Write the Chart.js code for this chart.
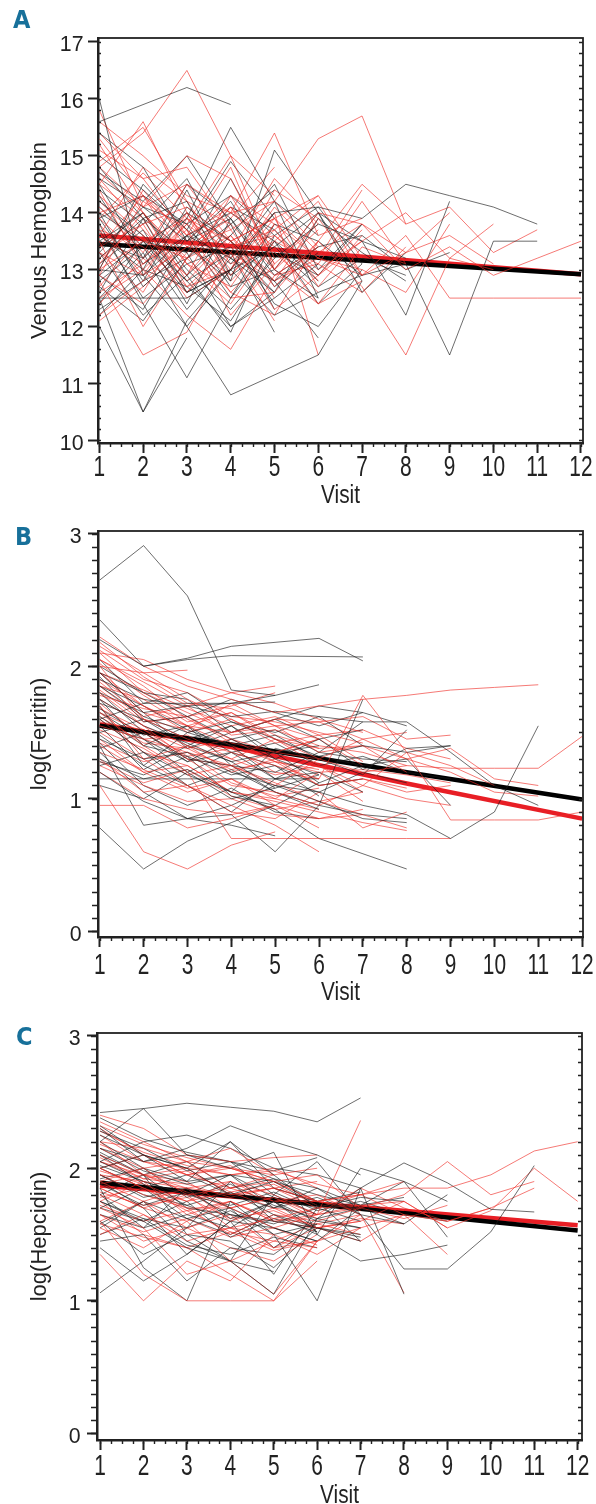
<!DOCTYPE html>
<html lang="en">
<head>
<meta charset="UTF-8">
<title>Trajectories by visit</title>
<script src="https://cdn.jsdelivr.net/npm/chart.js@4"></script>
<style>
  body { margin: 0; background: #fff; }
  #wrap { position: relative; width: 596px; height: 1504px; overflow: hidden; }
  .panel { position: absolute; left: 0; width: 596px; }
  .tag { position: absolute; font: bold 25px/25px 'DejaVu Sans Condensed', sans-serif; color: #17709a; }
</style>
</head>
<body>
<div id="wrap">
  <div class="panel" style="top:0;height:512px"><canvas id="chartA"></canvas></div>
  <div class="panel" style="top:512px;height:494px"><canvas id="chartB"></canvas></div>
  <div class="panel" style="top:1006px;height:498px"><canvas id="chartC"></canvas></div>
  <div class="tag" style="left:13px;top:7px">A</div>
  <div class="tag" style="left:15px;top:524px">B</div>
  <div class="tag" style="left:16px;top:1024px">C</div>
</div>
<script>
const visits = [1, 2, 3, 4, 5, 6, 7, 8, 9, 10, 11, 12];
const fitVisits = [1, 12];
const ferFitVisits = [1, 4, 8, 12];

// A: venous hemoglobin, one row per subject, value per visit
const hbBlack = [
  [15.6, null, 16.2, 15.9],
  [16.0, 12.9, 13.6, 13.2, 12.6],
  [12.5, 10.5, 12.1, 13.0],
  [12.0, 10.5, 11.8],
  [13.8, 12.4, 11.1, 12.5, 13.5, 12.8],
  [13.0, 12.9, 12.0, 10.8, null, 11.5, 12.8],
  [14.5, 13.2, 13.9, 15.5, 14.2, 12.5],
  [13.2, 13.9, 14.2, 12.8, 15.1, 14.0, 12.8],
  [14.0, 13.5, 12.6, 13.0, 14.0, 14.1, 13.9, 14.5, 14.3, 14.1, 13.8],
  [12.5, 12.5, 12.5, 13.0, 12.2, 12.6, 12.9, 13.1, 11.5, 13.5, 13.5],
  [13.5, 14.0, 13.0, 12.3, 13.2, 13.8, 13.5, 12.2, 14.2],
  [14.6, 14.1, 13.5, 14.2, 13.0, 12.5],
  [13.3, 12.2, 12.9, 13.6, 14.5, 13.0, 13.8],
  [12.8, 13.4, 14.0, 13.5, 12.8, 11.8],
  [14.2, 13.6, 12.8, 12.0, 12.5, 13.1],
  [13.0, 14.5, 13.7, 13.1, 14.0],
  [12.7, 12.1, 13.2, 13.8, 12.3],
  [15.4, 14.8, 13.5, 13.9],
  [13.6, 13.0, 14.4, 12.9, 13.4, 14.0, 12.6, 13.3],
  [14.8, 13.9, 12.6, 13.0],
  [12.9, 13.5, 13.3, 12.0, 12.6],
  [13.9, 14.3, 13.8, 14.3, 13.6, 14.1, 13.1],
  [12.3, 12.8, 14.1, 13.5, 12.4, 12.0, 13.0],
  [14.0, 12.7, 13.4, 12.8],
  [13.4, 14.0, 12.9, 11.9, 13.6],
  [12.5, 13.3, 12.0, 13.0, 13.4, 12.7, 13.2, 12.9],
  [13.1, 13.7, 12.4, 13.9, 12.7, 13.3],
  [14.3, 13.1, 13.6, 12.5, 13.8, 13.5, 12.9],
  [12.6, 13.9, 13.3, 14.6, 13.2],
  [13.7, 12.5, 13.1, 13.4, 12.6, 13.9, 13.3, 12.8],
  [14.7, 14.2, 15.0, 13.8, 14.4],
  [12.2, 13.0, 12.7, 12.1, 13.3, 12.9],
  [13.5, 13.2, 14.5, 13.9, 12.9, 13.4, 13.6, 13.0, 13.3],
  [14.1, 13.4, 12.3, 13.2, 14.2, 13.6],
  [12.9, 12.3, 13.6, 14.0, 13.5, 12.4, 13.1],
  [15.0, 14.4, 13.7, 14.9, 13.9],
  [13.3, 14.1, 13.8, 12.7, 13.0, 14.0, 13.5, 13.2],
  [12.4, 13.5, 12.8, 13.3, 11.9],
  [13.9, 12.8, 13.2, 14.1, 13.7, 12.9, 13.8],
  [14.4, 13.8, 14.6, 13.2, 12.8, 13.4]
];
const hbRed = [
  [14.8, 15.4, 16.5, 15.0, 14.3],
  [13.0, 13.5, 13.2, 14.0, 14.2, 15.3, 15.7, 13.8],
  [15.8, 14.1, 15.0, 14.6, 13.1],
  [14.5, 15.6, 14.0, 13.4, 13.7, 12.8],
  [13.5, 12.0, 13.2, 12.5, 12.6, 13.5, 12.7, 11.5, 13.2, 13.0],
  [12.8, 11.5, 11.9, 13.3, 12.1],
  [14.0, 14.3, 13.6, 14.8, 13.0, 14.0, 13.8, 13.0, 13.4, 12.9, 13.2, 13.5],
  [13.2, 13.8, 14.1, 13.5, 13.9, 13.2, 12.9, 13.6, 12.5, 12.5, 12.5, 12.5],
  [15.2, 14.0, 13.1, 12.7, 13.8],
  [12.5, 13.0, 12.2, 11.6, 12.9, 13.4],
  [14.1, 13.3, 14.5, 14.0, 15.4, 13.6, 13.9],
  [13.8, 12.9, 13.4, 13.7, 12.7, 13.5, 14.5, 13.8, 14.1, 13.3, 13.7],
  [12.9, 14.2, 13.7, 12.2, 13.1],
  [15.1, 14.6, 13.6, 14.1, 13.3, 12.6],
  [13.3, 12.6, 13.9, 13.5, 12.3, 12.9, 13.5],
  [14.3, 13.6, 12.5, 13.0, 14.4, 13.9, 12.9, 13.3, 14.0],
  [12.6, 13.1, 13.8, 13.2, 14.0, 11.5],
  [13.6, 14.8, 14.2, 13.1, 13.5, 14.2, 12.9],
  [14.6, 13.7, 12.9, 14.3, 13.8],
  [12.2, 12.8, 13.5, 12.6, 13.4, 12.4, 12.8],
  [13.9, 13.2, 14.0, 12.8, 13.6, 13.0, 13.5, 14.0, 13.2, 13.8],
  [13.1, 14.0, 12.8, 13.6, 12.5],
  [14.9, 15.5, 14.2, 13.8],
  [12.9, 12.4, 13.3, 14.1, 13.0, 13.7],
  [13.7, 13.4, 12.7, 13.0, 13.9, 12.7, 13.6],
  [14.4, 13.0, 13.8, 15.0, 13.2],
  [13.4, 14.3, 13.1, 12.4, 13.5, 13.1, 14.2, 13.1],
  [15.4, 14.6, 14.8, 13.7, 14.2, 13.4],
  [13.9, 14.7, 13.9, 13.3, 14.6, 13.8],
  [12.7, 13.6, 12.9, 13.8, 13.0, 12.4, 13.4, 13.1],
  [14.7, 14.0, 13.2, 13.6, 12.8, 13.9],
  [13.3, 12.9, 14.0, 12.9, 13.7, 14.3, 13.2],
  [15.6, 15.0, 14.3, 14.0, 13.4],
  [12.4, 13.2, 12.6, 13.5, 12.9, 13.1, 12.6, 13.4],
  [14.2, 13.5, 13.9, 13.0, 14.1, 13.3, 13.8, 13.3, 13.6, 13.1],
  [13.0, 14.4, 13.5, 14.3, 13.1, 13.8],
  [14.5, 13.9, 12.7, 13.4, 13.6, 12.9, 13.7],
  [13.6, 13.1, 13.7, 12.6, 12.2, 13.5],
  [12.1, 12.7, 13.4, 12.9, 13.8, 13.2, 14.4],
  [14.8, 14.1, 14.5, 13.5, 13.9, 14.3],
  [13.4, 13.8, 12.6, 13.3, 12.8, 13.2, 13.0, 12.6, 13.8],
  [15.3, 14.3, 13.4, 13.9, 14.8]
];
const hbFitBlack = [13.45, 12.92];
const hbFitRed = [13.6, 12.92];

// B: log(Ferritin)
const ferBlack = [
  [2.65, 2.91, 2.53, 1.82, 1.78],
  [2.35, 2.0, 2.06, 2.15, null, 2.21, 2.04],
  [2.2, 2.0, 2.05, 2.08, null, null, 2.07],
  [0.78, 0.47, 0.68, 0.82, 0.95],
  [1.45, 1.30, 1.35, 1.20, 1.10, 1.05, 0.95, 0.88, 0.70, 0.90, 1.55],
  [1.90, 1.75, 1.70, 1.62, 1.66, 1.62, 1.58, 1.58, 1.35, 1.10, 0.95],
  [1.2, 0.98, 0.85, 0.88, 0.60, 0.95, 1.75],
  [1.6, 1.35, 1.18, 1.05, 0.92, 0.70, null, 0.47],
  [1.95, 1.65, 1.70, 1.72, 1.78, 1.86],
  [1.75, 1.55, 1.42, 1.28, 1.35, 1.12, 1.25, 1.30, 0.95],
  [1.30, 1.15, 1.22, 1.05, 1.38, 1.30, 1.18, 1.52],
  [1.85, 1.62, 1.50, 1.58, 1.45, 1.32, 1.40, 1.35, 1.40],
  [1.40, 0.80, 0.85, 0.95, 1.10, 0.98, 0.85, 0.82],
  [1.55, 1.45, 1.20, 1.35, 1.25, 1.02],
  [1.70, 1.25, 1.50, 1.40, 1.15, 1.32, 1.25],
  [2.00, 1.80, 1.62, 1.75, 1.65, 1.55, 1.65],
  [1.15, 1.15, 1.15, 1.15, 1.15, 1.15],
  [1.60, 1.72, 1.72, 1.72, 1.73],
  [1.25, 1.35, 1.10, 0.90, 1.15, 1.20, 1.05],
  [1.80, 1.50, 1.30, 1.25, 1.05, 0.95, 0.88, 0.85],
  [1.50, 1.60, 1.40, 1.55, 1.30, 1.45, 1.22, 1.38, 1.40],
  [1.35, 1.05, 0.85, 0.80, 0.72],
  [1.95, 1.80, 1.75, 1.50, 1.60, 1.70, 1.65, 1.55],
  [1.65, 1.45, 1.28, 1.45, 1.30, 1.18],
  [1.10, 1.00, 1.20, 1.00, 1.08],
  [1.75, 1.40, 1.55, 1.25, 1.20, 1.35, 1.58],
  [1.85, 1.70, 1.52, 1.40, 1.48, 1.30],
  [1.62, 1.40, 1.32, 1.18, 1.25, 1.10, 1.15],
  [1.48, 1.25, 1.10, 1.22, 1.05, 0.92],
  [2.05, 1.72, 1.80, 1.58, 1.50, 1.62, 1.40],
  [1.38, 1.50, 1.28, 1.35, 1.15, 1.05, 1.20, 1.12],
  [1.72, 1.60, 1.45, 1.55, 1.35, 1.40],
  [1.28, 1.18, 1.32, 1.02, 0.95, 1.12],
  [1.92, 1.58, 1.62, 1.45, 1.52, 1.35, 1.30, 1.28],
  [1.55, 1.22, 1.40, 1.28, 1.08, 1.18],
  [1.68, 1.48, 1.55, 1.35, 1.42, 1.25, 1.32, 1.20, 1.15],
  [1.42, 1.10, 0.95, 1.08, 0.90, 0.85],
  [1.80, 1.65, 1.38, 1.50, 1.60, 1.45, 1.52]
];
const ferRed = [
  [1.10, 0.60, 0.47, 0.65, 0.75],
  [0.95, 0.95, 0.78, 0.85, 0.95],
  [2.22, 2.00, 1.85, 1.75, 1.65, 1.70, 1.75, 1.78, 1.82, 1.84, 1.86],
  [2.15, 1.95, 1.75, 1.60, 1.45, 1.30, 1.20, 1.25, 1.23, 1.23, 1.23, 1.47],
  [1.80, 1.55, 1.30, 1.10, 1.05, 0.95, 1.10, 1.35, 0.84, 0.84, 0.84, 0.90],
  [1.65, 1.40, 1.20, 0.70, 0.70, 0.70, 0.70, 0.70, 0.70],
  [2.05, 1.88, 1.70, 1.80, 1.85],
  [2.00, 1.95, 1.97],
  [1.90, 1.70, 1.55, 1.50, 1.60, 1.58, 1.62, 1.45, 1.48],
  [1.70, 1.30, 1.10, 0.95, 0.80, 0.60],
  [1.55, 1.45, 1.35, 1.25, 1.10, 1.30, 1.45, 1.30, 1.20, 1.05, 1.02],
  [2.10, 1.80, 1.65, 1.50, 1.55, 1.35, 1.40, 1.20],
  [1.85, 1.60, 1.45, 1.35, 1.25, 1.15, 1.78, 1.35, 1.25, 1.10],
  [1.45, 1.20, 1.05, 1.15, 0.95, 0.85, 0.88, 0.78],
  [1.95, 1.70, 1.50, 1.60, 1.42, 1.48, 1.28],
  [1.30, 1.05, 1.10, 0.90, 0.85, 1.05, 0.78, 0.90],
  [2.00, 1.60, 1.52, 1.72, 1.55, 1.45],
  [1.75, 1.55, 1.40, 1.30, 1.45, 1.25, 1.10, 1.00, 0.95],
  [1.60, 1.35, 1.25, 1.05, 1.00, 1.20, 0.98],
  [2.10, 2.05, 1.90, 1.80, 1.72, 1.60, 1.50],
  [1.50, 1.30, 1.40, 1.20, 1.30, 1.10, 1.15, 1.05, 1.10],
  [1.20, 1.00, 0.92, 0.88, 0.95, 0.78],
  [1.85, 1.75, 1.55, 1.65, 1.45, 1.38, 1.40, 1.30, 1.38, 1.15, 1.10],
  [2.05, 1.85, 1.60, 1.45, 1.35, 1.30],
  [1.65, 1.50, 1.30, 1.25, 1.35, 1.45],
  [1.40, 1.20, 1.25, 1.05, 0.98, 0.90, 0.82, 0.76],
  [1.78, 1.68, 1.62, 1.70, 1.80],
  [1.25, 1.10, 0.98, 1.00, 0.88, 0.85, 0.92],
  [1.95, 1.65, 1.55, 1.40, 1.28, 1.20, 1.22, 1.18, 1.12],
  [1.58, 1.52, 1.32, 1.38, 1.20, 1.15],
  [2.12, 1.90, 1.80, 1.62, 1.58, 1.50, 1.42],
  [1.72, 1.45, 1.48, 1.30, 1.18, 1.25, 1.05],
  [1.88, 1.62, 1.70, 1.48, 1.52, 1.40, 1.35, 1.25],
  [1.35, 1.22, 1.08, 1.15, 1.00, 0.92],
  [2.02, 1.78, 1.58, 1.65, 1.48, 1.38],
  [1.62, 1.42, 1.38, 1.22, 1.28, 1.10, 1.15, 1.08],
  [1.52, 1.38, 1.18, 1.25, 1.12, 0.98, 1.05],
  [1.95, 1.82, 1.68, 1.55, 1.62, 1.48, 1.52, 1.38, 1.30],
  [1.42, 1.28, 1.35, 1.12, 1.02, 1.08],
  [1.82, 1.58, 1.62, 1.42, 1.35, 1.45, 1.25],
  [1.68, 1.52, 1.38, 1.45, 1.28, 1.22],
  [2.18, 1.92, 1.72, 1.68, 1.55, 1.58, 1.45, 1.50],
  [1.28, 1.12, 1.22, 1.02, 0.92, 0.98, 0.88]
];
const ferFitBlack = [1.55, 1.41, 1.20, 0.995];
const ferFitRed = [1.56, 1.39, 1.115, 0.85];

// C: log(Hepcidin)
const hepBlack = [
  [2.42, 2.45, 2.49, 2.46, 2.43, 2.35, 2.53],
  [2.20, 2.45, 2.10, 2.00, 2.12, 1.50, 1.30, 1.35, 1.42],
  [2.30, 2.05, 2.15, 2.32, 2.20, 2.10, 1.95],
  [1.06, 1.30, 1.55, 1.90, 1.60],
  [1.85, 1.25, 1.00, 1.75, 1.50, 1.00, 1.85, 1.05],
  [2.05, 1.90, 1.80, 1.95, 1.70, 1.85, 1.65, 1.24, 1.24, 1.52, 2.02],
  [1.75, 1.60, 1.40, 1.30, 1.05, 1.62, 1.85, 2.04, 1.89, 1.69, 1.67],
  [1.95, 1.78, 1.85, 1.62, 1.75, 1.60, 1.55],
  [2.25, 2.10, 2.00, 1.80, 1.90, 1.72, 1.70],
  [1.60, 1.35, 1.50, 1.45, 1.25, 1.55, 1.45],
  [2.10, 1.95, 1.70, 1.65, 1.60, 1.55, 1.50],
  [1.45, 1.50, 1.15, 1.40, 1.35, 1.58],
  [2.00, 2.10, 1.90, 2.20, 1.95, 1.70, 1.78, 1.75],
  [1.80, 1.55, 1.65, 1.55, 1.75, 1.52],
  [2.15, 2.05, 2.10, 2.05, 1.80, 2.05, 1.65, 1.58, 1.80],
  [1.55, 1.75, 1.45, 1.30, 1.22],
  [2.32, 2.10, 2.00, 2.20, 1.85, 1.75, 1.45],
  [1.70, 1.85, 1.62, 1.50, 1.65, 1.50, 2.00, 1.90, 1.48],
  [1.90, 1.70, 1.35, 1.60, 1.20, 1.70],
  [2.05, 2.20, 2.25, 2.15, 2.00, 1.95, 1.85],
  [1.65, 1.55, 1.85, 1.70, 1.40, 1.62, 1.55],
  [1.95, 1.80, 1.72, 1.82, 1.65, 1.55, 1.48],
  [1.40, 1.15, 1.35, 1.60, 1.55, 1.45, 1.70],
  [2.20, 2.00, 1.90, 1.95, 1.90, 1.80, 1.72, 1.90, 1.75],
  [1.80, 1.95, 1.50, 1.30, 1.80, 1.65],
  [2.10, 1.88, 1.72, 1.60, 1.75, 1.55],
  [2.15, 1.98, 1.88, 1.95, 1.78, 1.70],
  [1.88, 1.72, 1.82, 1.65, 1.58, 1.70, 1.60],
  [2.28, 2.15, 1.98, 2.05, 1.92, 1.85, 1.72, 1.78],
  [1.70, 1.60, 1.75, 1.48, 1.62, 1.52],
  [2.00, 1.85, 1.95, 1.80, 1.70, 1.78, 1.65],
  [1.58, 1.75, 1.62, 1.70, 1.55, 1.45],
  [2.38, 2.22, 2.12, 2.05, 1.98, 2.08],
  [1.92, 2.00, 1.78, 1.88, 1.72, 1.62, 1.70, 1.58],
  [1.75, 1.62, 1.55, 1.68, 1.50, 1.58],
  [2.12, 1.95, 2.05, 1.85, 1.92, 1.75, 1.82],
  [1.50, 1.62, 1.42, 1.35, 1.48, 1.40],
  [2.02, 1.90, 1.80, 1.72, 1.82, 1.68, 1.75, 1.65, 1.60]
];
const hepRed = [
  [1.60, 1.20, 1.00, 1.00, 1.00, 1.45, 1.55],
  [1.35, 1.00, 1.30, 1.15, 1.50],
  [2.00, 1.85, 1.70, 1.70, 1.55, 1.65, 2.36],
  [1.95, 1.90, 1.85, 1.80, 1.85, 1.75, 1.80, 1.85, 1.85, 1.95, 2.13, 2.20],
  [2.40, 2.30, 2.10, 2.05, 2.08, 2.10],
  [2.20, 2.15, 2.05, 2.00, 1.90, 1.95, 1.70, 1.80, 2.05, 1.80, 1.90],
  [1.80, 1.65, 1.50, 1.55, 1.40, 1.45, 1.65, 1.06],
  [1.90, 1.75, 1.85, 1.60, 1.70, 1.55, 1.60, 1.75, 1.55, 1.68, 2.00, 1.75],
  [2.10, 1.95, 1.85, 1.90, 1.75, 1.80, 1.65],
  [1.70, 1.55, 1.20, 1.30, 1.05, 1.45],
  [2.25, 2.05, 2.00, 1.95, 2.00, 1.85],
  [1.85, 1.70, 1.80, 1.55, 1.62, 1.70, 1.72, 1.75, 1.55],
  [2.00, 2.10, 1.95, 1.85, 1.90, 1.75, 1.80, 1.65, 1.60, 1.70, 1.85],
  [1.55, 1.40, 1.60, 1.30, 1.45, 1.40],
  [2.35, 2.20, 2.05, 2.15, 1.95],
  [1.75, 1.90, 1.65, 1.75, 1.60, 1.55, 1.45, 1.65, 1.35],
  [1.95, 1.80, 1.70, 1.50, 1.65, 1.60, 1.70],
  [2.15, 2.00, 2.05, 1.85, 1.95, 2.00],
  [1.65, 1.45, 1.55, 1.40, 1.30, 1.50],
  [2.05, 1.95, 2.00, 1.80, 1.85, 1.70, 1.80, 1.90],
  [1.85, 1.70, 1.60, 1.75, 1.60, 1.65],
  [2.30, 2.10, 1.95, 2.00, 1.90, 1.75, 1.70],
  [1.50, 1.65, 1.45, 1.55, 1.50, 1.35, 1.55, 1.65],
  [2.00, 1.85, 1.75, 1.90, 1.80, 1.65, 1.85, 1.70, 1.60, 1.70],
  [1.75, 1.50, 1.40, 1.20, 1.00, 1.30],
  [1.90, 2.00, 1.80, 1.85, 1.75, 1.75],
  [2.20, 1.95, 1.90, 1.70, 1.78, 1.62],
  [1.60, 1.75, 1.55, 1.65, 1.40, 1.55, 1.60],
  [2.08, 1.92, 1.98, 1.82, 1.88, 1.72],
  [1.78, 1.85, 1.68, 1.75, 1.62, 1.58, 1.65],
  [2.28, 2.12, 2.02, 1.95, 1.98, 1.88, 1.80],
  [1.65, 1.52, 1.62, 1.48, 1.55, 1.42],
  [1.98, 1.88, 1.75, 1.82, 1.70, 1.65, 1.72, 1.68],
  [2.18, 2.05, 1.95, 2.02, 1.85, 1.90],
  [1.72, 1.60, 1.68, 1.52, 1.45, 1.58, 1.50],
  [1.88, 1.95, 1.82, 1.70, 1.78, 1.65, 1.70, 1.62, 1.72],
  [2.32, 2.18, 2.08, 2.00, 1.95],
  [1.58, 1.48, 1.40, 1.52, 1.38, 1.45],
  [2.05, 1.92, 1.88, 1.78, 1.85, 1.75, 1.68],
  [1.82, 1.72, 1.78, 1.62, 1.68, 1.55, 1.62, 1.58]
];
const hepFitBlack = [1.89, 1.53];
const hepFitRed = [1.87, 1.57];

const FONT = "'Liberation Sans', Arial, sans-serif";
const INK = '#222';

// draw text squeezed sideways, to get the narrow look of the original type
function narrowText(ctx, text, px, py, sx, rot) {
  ctx.save();
  ctx.translate(px, py);
  if (rot) ctx.rotate(rot);
  ctx.scale(sx, 1);
  ctx.fillText(text, 0, 0);
  ctx.restore();
}

// box round the plot area plus the small in-between ticks
const framePlugin = {
  id: 'frame',
  afterDatasetsDraw(chart, args, opts) {
    const { ctx, chartArea: a, scales: { x, y } } = chart;
    ctx.save();
    ctx.strokeStyle = INK;
    ctx.lineWidth = 1.8;
    ctx.strokeRect(a.left, a.top, a.right - a.left, a.bottom - a.top);
    ctx.lineWidth = 1.4;
    ctx.beginPath();
    const s = opts.yMinor;
    for (let i = Math.ceil(y.min / s); i * s <= y.max; i++) {
      const py = Math.round(y.getPixelForValue(i * s)) + 0.5;
      ctx.moveTo(a.left - opts.yMinorOut, py);
      ctx.lineTo(a.left + opts.yMinorIn, py);
      ctx.moveTo(a.right, py);
      ctx.lineTo(a.right - 4, py);
    }
    const t = opts.xMinor;
    for (let i = Math.ceil(x.min / t); i * t <= x.max; i++) {
      const px = Math.round(x.getPixelForValue(i * t)) + 0.5;
      ctx.moveTo(px, a.bottom);
      ctx.lineTo(px, a.bottom + 4);
    }
    ctx.stroke();
    ctx.restore();
  }
};

// tick labels and axis titles
const textPlugin = {
  id: 'axisText',
  afterDraw(chart, args, o) {
    const { ctx, chartArea: a, scales: { x, y } } = chart;
    ctx.save();
    ctx.fillStyle = INK;
    ctx.textBaseline = 'alphabetic';
    ctx.textAlign = 'center';
    ctx.font = `29px ${FONT}`;
    x.ticks.forEach(t => narrowText(ctx, String(t.value), x.getPixelForValue(t.value), a.bottom + o.xTickDrop, 0.72));
    ctx.font = `26px ${FONT}`;
    narrowText(ctx, 'Visit', (a.left + a.right) / 2, a.bottom + o.xTitleDrop, 0.8);
    ctx.textAlign = 'right';
    ctx.font = `22px ${FONT}`;
    y.ticks.forEach(t => narrowText(ctx, String(t.value), a.left - o.yLabGap, y.getPixelForValue(t.value) + 9.5, 0.97));
    ctx.textAlign = 'center';
    ctx.textBaseline = 'middle';
    ctx.font = `22px ${FONT}`;
    narrowText(ctx, o.yTitle, 40, (a.top + a.bottom) / 2, 1, -Math.PI / 2);
    ctx.restore();
  }
};

function lines(rows, color, width) {
  return rows.map(r => ({
    data: r.map((v, i) => ({ x: visits[i], y: v })),
    borderColor: color,
    borderWidth: width,
    pointRadius: 0,
    spanGaps: true,
    tension: 0
  }));
}

function fit(xs, ys, color) {
  return {
    data: ys.map((v, i) => ({ x: xs[i], y: v })),
    borderColor: color,
    borderWidth: 4.5,
    pointRadius: 0,
    tension: 0
  };
}

function makeChart(id, p) {
  const blk = lines(p.black, 'rgba(25,25,25,0.8)', 0.8);
  const red = lines(p.red, 'rgba(240,45,40,0.8)', 0.8);
  const sets = [];
  const n = Math.max(blk.length, red.length);
  for (let i = 0; i < n; i++) {
    if (blk[i]) sets.push(blk[i]);
    if (red[i]) sets.push(red[i]);
  }
  sets.push(fit(p.fitX, p.fitBlack, '#000'));
  sets.push(fit(p.fitX, p.fitRed, '#e81e25'));

  return new Chart(document.getElementById(id), {
    type: 'line',
    data: { datasets: sets },
    options: {
      responsive: true,
      maintainAspectRatio: false,
      animation: false,
      events: [],
      layout: { padding: { top: p.padTop, right: p.padRight, left: 0, bottom: 0 } },
      plugins: {
        legend: { display: false },
        tooltip: { enabled: false },
        frame: { yMinor: p.yMinor, yMinorOut: p.yMinorOut, yMinorIn: p.yMinorIn, xMinor: 0.25 },
        axisText: { yTitle: p.yTitle, yLabGap: p.yLabGap, xTickDrop: p.xTickDrop, xTitleDrop: p.xTitleDrop }
      },
      scales: {
        x: {
          type: 'linear',
          min: p.xMin, max: p.xMax,
          afterBuildTicks: s => { s.ticks = visits.map(v => ({ value: v })); },
          afterFit: s => { s.height = p.xHeight; },
          grid: { drawOnChartArea: false, tickLength: 10, tickWidth: 2, tickColor: INK },
          border: { color: INK, width: 2.5 },
          ticks: { display: false }
        },
        y: {
          min: p.yMin, max: p.yMax,
          afterBuildTicks: s => { s.ticks = p.yTicks.map(v => ({ value: v })); },
          afterFit: s => { s.width = p.yWidth; },
          grid: { drawOnChartArea: false, tickLength: 10, tickWidth: 2, tickColor: INK },
          border: { color: INK, width: 2.5 },
          ticks: { display: false }
        }
      }
    },
    plugins: [framePlugin, textPlugin]
  });
}

makeChart('chartA', {
  black: hbBlack, red: hbRed, fitX: fitVisits, fitBlack: hbFitBlack, fitRed: hbFitRed,
  yMin: 9.954, yMax: 17.07, yTicks: [10, 11, 12, 13, 14, 15, 16, 17], yTitle: 'Venous Hemoglobin',
  yMinor: 0.2, yMinorOut: 0, yMinorIn: 3, yLabGap: 14.5,
  xMin: 0.97, xMax: 12.046, padTop: 38, padRight: 13, yWidth: 98, xHeight: 69, xTickDrop: 32.5, xTitleDrop: 60
});
makeChart('chartB', {
  black: ferBlack, red: ferRed, fitX: ferFitVisits, fitBlack: ferFitBlack, fitRed: ferFitRed,
  yMin: -0.043, yMax: 3.02, yTicks: [0, 1, 2, 3], yTitle: 'log(Ferritin)',
  yMinor: 0.1, yMinorOut: 6, yMinorIn: 0, yLabGap: 16.5,
  xMin: 0.96, xMax: 12.02, padTop: 19, padRight: 13, yWidth: 98, xHeight: 69, xTickDrop: 36.5, xTitleDrop: 63
});
makeChart('chartC', {
  black: hepBlack, red: hepRed, fitX: fitVisits, fitBlack: hepFitBlack, fitRed: hepFitRed,
  yMin: -0.05, yMax: 3.02, yTicks: [0, 1, 2, 3], yTitle: 'log(Hepcidin)',
  yMinor: 0.1, yMinorOut: 6, yMinorIn: 0, yLabGap: 16.5,
  xMin: 0.93, xMax: 12.1, padTop: 27, padRight: 14, yWidth: 97, xHeight: 64, xTickDrop: 35, xTitleDrop: 62.5
});
</script>
</body>
</html>
